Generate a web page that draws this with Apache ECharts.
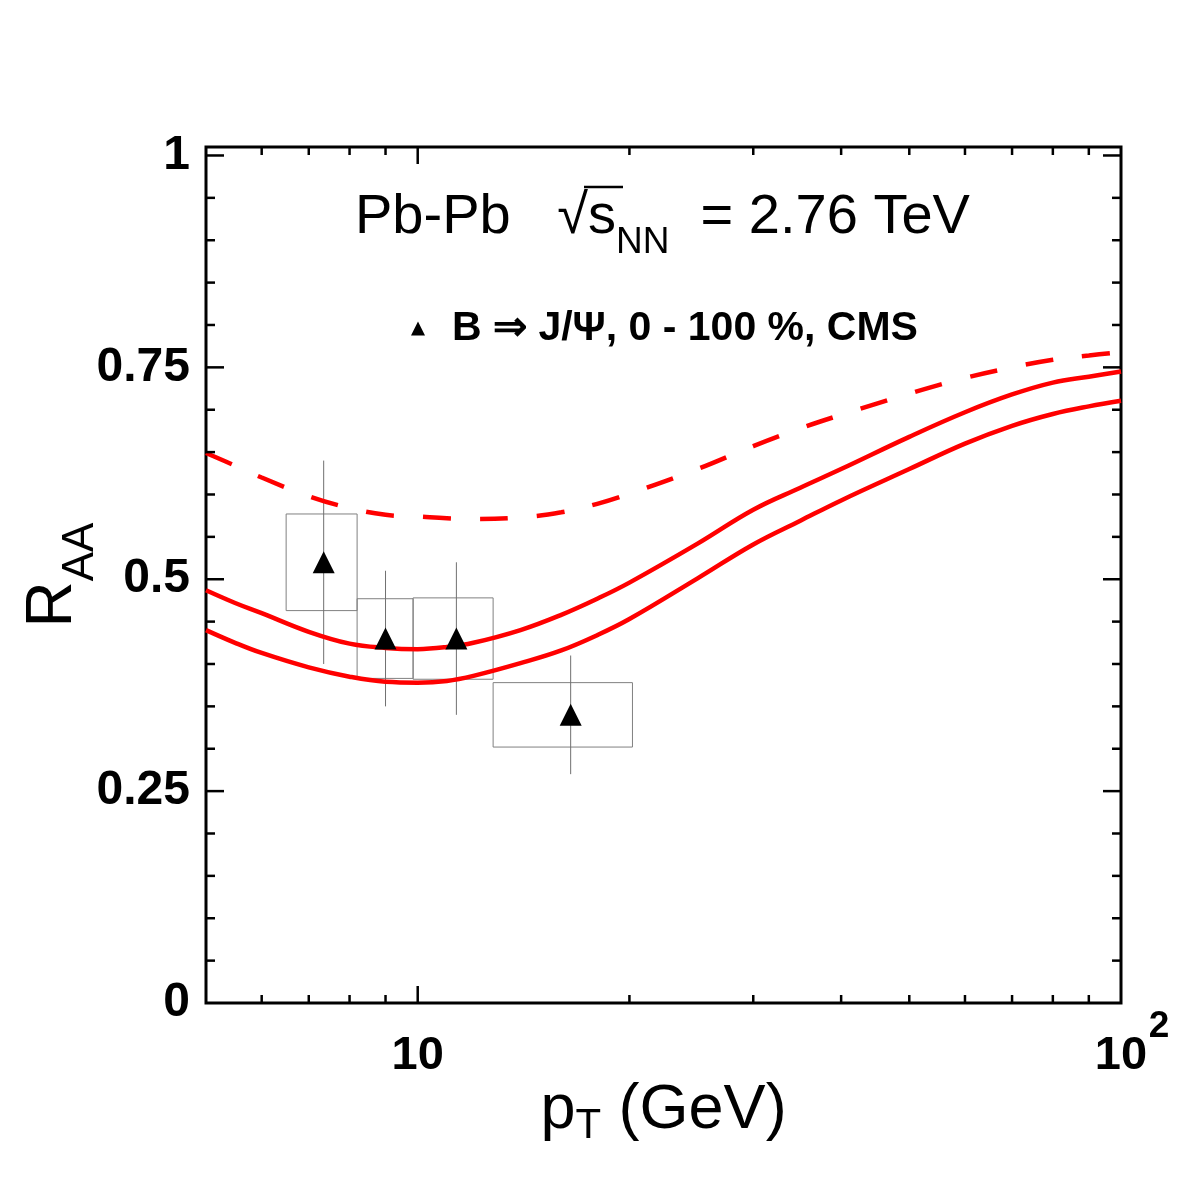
<!DOCTYPE html>
<html>
<head>
<meta charset="utf-8">
<script src="https://cdn.jsdelivr.net/npm/echarts@6/dist/echarts.min.js"></script>
<style>
  html, body { margin: 0; padding: 0; background: #fff; }
  #chart { width: 1182px; height: 1182px; }
</style>
</head>
<body>
<div id="chart"></div>
<script>
const FONT = "'Liberation Sans', Arial, Helvetica, sans-serif";

// model curves (pT grid, GeV)
const ptGrid = [5, 5.5, 6, 7, 8, 9, 10, 11, 12, 14, 16, 18, 20, 25, 30, 35, 40, 50, 60, 70, 80, 90, 100];
const upperSolid = [0.487, 0.472, 0.460, 0.438, 0.424, 0.419, 0.4175, 0.420, 0.425, 0.440, 0.458, 0.477, 0.496, 0.542, 0.582, 0.608, 0.630, 0.668, 0.697, 0.718, 0.732, 0.739, 0.745];
const lowerSolid = [0.440, 0.425, 0.413, 0.396, 0.385, 0.379, 0.378, 0.380, 0.386, 0.401, 0.416, 0.434, 0.453, 0.501, 0.541, 0.569, 0.593, 0.630, 0.660, 0.681, 0.695, 0.704, 0.7105];
const dashed = [0.649, 0.634, 0.620, 0.598, 0.584, 0.576, 0.574, 0.572, 0.571, 0.573, 0.579, 0.589, 0.601, 0.630, 0.657, 0.678, 0.694, 0.719, 0.7375, 0.750, 0.759, 0.764, 0.768];

// CMS B -> J/psi points
const ptCenters = [7.35, 9.0, 11.35, 16.5];
const raa = [0.52, 0.43, 0.43, 0.34];
const binLow = [6.5, 8.2, 9.85, 12.8];
const binHigh = [8.2, 9.85, 12.8, 20.2];
const sysErr = [0.057, 0.047, 0.048, 0.038];
const statErr = [0.12, 0.08, 0.09, 0.07];

// tick values
const xMajorTicks = [10];
const xMinorTicks = [6, 7, 8, 9, 20, 30, 40, 50, 60, 70, 80, 90];
const yMajorTicks = [0.25, 0.5, 0.75, 1];
const yMinorTicks = [0.05, 0.1, 0.15, 0.2, 0.3, 0.35, 0.4, 0.45, 0.55, 0.6, 0.65, 0.7, 0.8, 0.85, 0.9, 0.95];
const yLabels = [0, 0.25, 0.5, 0.75, 1];

const legendName = 'B \u21D2 J/\u03A8, 0 - 100 %, CMS';

const chart = echarts.init(document.getElementById('chart'));

const tickLine = (x1, y1, x2, y2) => ({
    type: 'line',
    shape: { x1, y1, x2, y2 },
    style: { stroke: '#000', lineWidth: 2.5 }
});

const option = {
    backgroundColor: '#fff',
    animation: false,
    title: {
        text: '{t|Pb-Pb   \u221As}{sub|NN}{t|  = 2.76 TeV}',
        left: 355,
        top: 190,
        padding: 0,
        textStyle: {
            rich: {
                t: { fontFamily: FONT, fontSize: 56, fontWeight: 'normal', color: '#000', lineHeight: 56, verticalAlign: 'top' },
                sub: { fontFamily: FONT, fontSize: 37, fontWeight: 'normal', color: '#000', lineHeight: 71, verticalAlign: 'bottom' }
            }
        }
    },
    // overbar of the square root
    graphic: [{
        type: 'line',
        shape: { x1: 584, y1: 187, x2: 623, y2: 187 },
        style: { stroke: '#000', lineWidth: 2.5 }
    }],
    legend: {
        data: [legendName],
        left: 411,
        top: 306,
        padding: 0,
        icon: 'triangle',
        itemWidth: 14,
        itemHeight: 14,
        itemStyle: { color: '#000' },
        textStyle: {
            fontFamily: FONT, fontSize: 41, fontWeight: 'bold', color: '#000',
            lineHeight: 41, padding: [4, 0, 0, 22]
        }
    },
    grid: {
        left: 206, right: 61, top: 147, bottom: 179,
        outerBoundsMode: 'none',
        containLabel: false,
        show: true, borderColor: '#000', borderWidth: 3, backgroundColor: 'transparent'
    },
    xAxis: {
        type: 'log',
        min: 5,
        max: 100,
        axisLine: { show: false },
        axisTick: { show: false },
        splitLine: { show: false },
        axisLabel: {
            margin: 5,
            formatter: v => {
                const r = Math.round(v);
                if (r === 10) return '{sp| }{n|10}{sp| }';
                if (r === 100) return '{sp| }{n|10}{sup|2}';
                return '';
            },
            rich: {
                n: { fontFamily: FONT, fontSize: 47, fontWeight: 'bold', color: '#000', lineHeight: 47, verticalAlign: 'bottom' },
                sup: { fontFamily: FONT, fontSize: 37, fontWeight: 'bold', color: '#000', lineHeight: 37, verticalAlign: 'top', width: 24 },
                sp: { fontFamily: FONT, fontSize: 37, lineHeight: 72, width: 24 }
            }
        },
        name: '{m|p}{sub|T}{m| (GeV)}',
        nameLocation: 'middle',
        nameGap: 76,
        nameMoveOverlap: false,
        nameTextStyle: {
            rich: {
                m: { fontFamily: FONT, fontSize: 63, color: '#000', lineHeight: 63, verticalAlign: 'top' },
                sub: { fontFamily: FONT, fontSize: 42, color: '#000', lineHeight: 68, verticalAlign: 'bottom' }
            }
        }
    },
    yAxis: {
        type: 'value',
        min: 0,
        max: 1.01,
        interval: 0.25,
        axisLine: { show: false },
        axisTick: { show: false },
        splitLine: { show: false },
        axisLabel: {
            margin: 16,
            fontFamily: FONT, fontSize: 48, fontWeight: 'bold', color: '#000',
            formatter: v => {
                const hit = yLabels.find(l => Math.abs(l - v) < 1e-6);
                return hit === undefined ? '' : String(hit);
            }
        },
        name: '{m|R}{sub|AA}',
        nameLocation: 'middle',
        nameGap: 103,
        nameMoveOverlap: false,
        nameTextStyle: {
            rich: {
                m: { fontFamily: FONT, fontSize: 64, color: '#000', lineHeight: 64, verticalAlign: 'top' },
                sub: { fontFamily: FONT, fontSize: 44, color: '#000', lineHeight: 82, verticalAlign: 'bottom' }
            }
        }
    },
    series: [
        {
            // systematic boxes + stat error bars
            type: 'custom',
            silent: true,
            z: 2,
            data: ptCenters.map((x, i) => [x, raa[i], binLow[i], binHigh[i], sysErr[i], statErr[i]]),
            encode: { x: 0, y: 1 },
            renderItem: (params, api) => {
                const x = api.value(0), y = api.value(1);
                const tl = api.coord([api.value(2), y + api.value(4)]);
                const br = api.coord([api.value(3), y - api.value(4)]);
                const top = api.coord([x, y + api.value(5)]);
                const bot = api.coord([x, y - api.value(5)]);
                return {
                    type: 'group',
                    children: [
                        {
                            type: 'rect',
                            shape: { x: tl[0], y: tl[1], width: br[0] - tl[0], height: br[1] - tl[1] },
                            style: { fill: 'none', stroke: '#808080', lineWidth: 1 }
                        },
                        {
                            type: 'line',
                            shape: { x1: top[0], y1: top[1], x2: bot[0], y2: bot[1] },
                            style: { stroke: '#707070', lineWidth: 1 }
                        }
                    ]
                };
            }
        },
        {
            name: 'upper',
            type: 'line',
            z: 3,
            data: ptGrid.map((x, i) => [x, upperSolid[i]]),
            showSymbol: false,
            smooth: 0.4,
            lineStyle: { color: '#ff0000', width: 4.5 }
        },
        {
            name: 'lower',
            type: 'line',
            z: 3,
            data: ptGrid.map((x, i) => [x, lowerSolid[i]]),
            showSymbol: false,
            smooth: 0.4,
            lineStyle: { color: '#ff0000', width: 4.5 }
        },
        {
            name: 'dashed',
            type: 'line',
            z: 3,
            data: ptGrid.map((x, i) => [x, dashed[i]]),
            showSymbol: false,
            smooth: 0.4,
            lineStyle: { color: '#ff0000', width: 4.5, type: [28, 29] }
        },
        {
            name: legendName,
            type: 'scatter',
            z: 4,
            symbol: 'triangle',
            symbolSize: 22,
            itemStyle: { color: '#000', opacity: 1 },
            data: ptCenters.map((x, i) => [x, raa[i]])
        },
        {
            // ticks on all four sides, pointing inward
            type: 'custom',
            silent: true,
            z: 5,
            data: [[10, 0.5]],
            encode: { x: 0, y: 1 },
            renderItem: (params, api) => {
                const cs = params.coordSys;
                const left = cs.x, right = cs.x + cs.width, top = cs.y, bottom = cs.y + cs.height;
                const children = [];
                const addX = (v, len) => {
                    const px = api.coord([v, 0.5])[0];
                    children.push(tickLine(px, bottom, px, bottom - len), tickLine(px, top, px, top + len));
                };
                const addY = (v, len) => {
                    const py = api.coord([10, v])[1];
                    children.push(tickLine(left, py, left + len, py), tickLine(right, py, right - len, py));
                };
                xMajorTicks.forEach(v => addX(v, 17));
                xMinorTicks.forEach(v => addX(v, 8));
                yMajorTicks.forEach(v => addY(v, 18));
                yMinorTicks.forEach(v => addY(v, 9));
                return { type: 'group', children };
            }
        }
    ]
};

chart.setOption(option);
</script>
</body>
</html>
